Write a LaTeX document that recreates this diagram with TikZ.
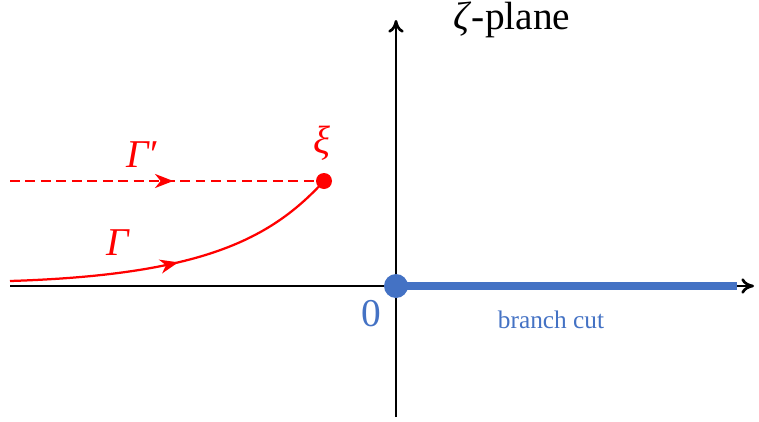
\documentclass[tikz,border=0pt]{standalone}
\usepackage{fontspec}
\setmainfont{Liberation Serif}
\usepackage{xcolor}
\usetikzlibrary{arrows.meta,calc,positioning,decorations.markings}
\definecolor{cutblue}{HTML}{4472C4}
\definecolor{pathred}{HTML}{FF0000}

\begin{document}
\begin{tikzpicture}[x=0.025cm,y=-0.025cm,
  axis/.style={line width=1.9pt,-{To[length=9pt,width=11pt]}},
  midarrow/.style={postaction={decorate},decoration={markings,
    mark=at position #1 with {\arrow{Stealth[length=13pt,width=10pt,inset=4pt]}}}}]
\useasboundingbox (0,0) rectangle (759,422);
\coordinate (O) at (396,286);
\coordinate (xl) at (10,286);
\coordinate (xr) at (754,286);
\coordinate (yb) at (396,417);
\coordinate (yt) at (396,20);
\coordinate (cutend) at (737,286);
\coordinate (xi) at (324,181);
\coordinate (dstart) at (10,181);
\coordinate (gstart) at (10,281);
% axes
\draw[axis] (xl)--(xr);
\draw[axis] (yb)--(yt);
% branch cut
\draw[cutblue,line width=6pt] (O)--(cutend);
\fill[cutblue] (O) circle (12);
% contours
\draw[pathred,line width=1.6pt,dash pattern=on 7pt off 4pt,midarrow=0.52] (dstart)--(xi);
\draw[pathred,line width=1.6pt,midarrow=0.5] (gstart) .. controls (200,275) and (270,240) .. (xi);
\fill[pathred] (xi) circle (8);
% labels
\node[font=\fontsize{28}{30}\selectfont] (plane) at (512,20) {\textit{ζ}-plane};
\node[pathred,font=\fontsize{28}{30}\selectfont] (xilab) at (322,143) {\textit{ξ}};
\node[pathred,font=\fontsize{28}{30}\selectfont] (gplab) at (143,155) {\textit{Γ}′};
\node[pathred,font=\fontsize{28}{30}\selectfont] (glab) at (118,243) {\textit{Γ}};
\node[cutblue,font=\fontsize{28}{30}\selectfont] (zero) at (371,314) {0};
\node[cutblue,font=\fontsize{18}{20}\selectfont] (cut) at (551,320) {branch cut};
\end{tikzpicture}
\end{document}
